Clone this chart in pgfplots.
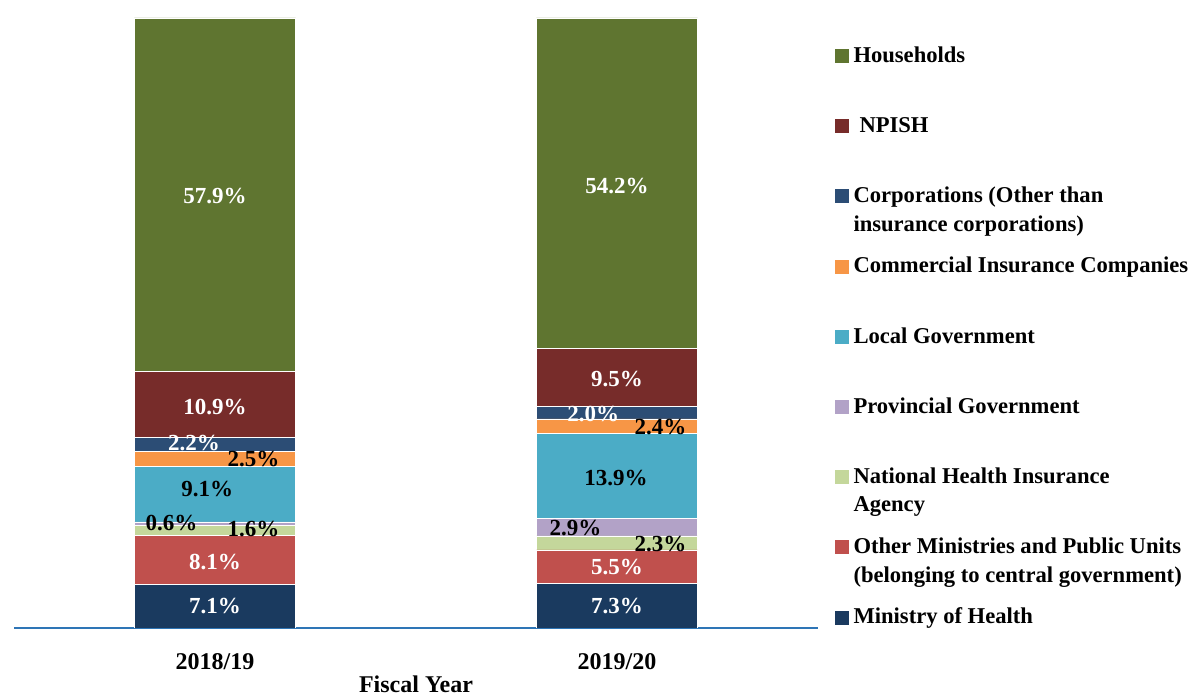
\documentclass[border=0pt]{standalone}
\usepackage{fontspec}
\setmainfont{Liberation Serif}
\usepackage{pgfplots}
\usepackage{pgfplotstable}
\pgfplotsset{compat=1.18}

\definecolor{cMoH}{HTML}{1A3A5F}
\definecolor{cOth}{HTML}{C0504D}
\definecolor{cNHI}{HTML}{C4D79B}
\definecolor{cPro}{HTML}{B2A2C7}
\definecolor{cLoc}{HTML}{4BACC6}
\definecolor{cCom}{HTML}{F79646}
\definecolor{cCor}{HTML}{2C4D75}
\definecolor{cNPI}{HTML}{772C2A}
\definecolor{cHou}{HTML}{5F7530}
\definecolor{cAxis}{HTML}{2E75B6}

\pgfplotstableread{
x MoH Oth NHI Pro Loc Com Cor NPI Hou
0 7.1 8.1 1.6 0.6 9.1 2.5 2.2 10.9 57.9
1 7.3 5.5 2.3 2.9 13.9 2.4 2.0 9.5 54.2
}\shares

\pgfplotstableread{
x y lab
0 70.82 57.9
0 36.23 10.9
-0.052 30.36 2.2
0 10.82 8.1
0 3.61 7.1
1 72.46 54.2
1 40.82 9.5
0.941 35.11 2.0
1 10.00 5.5
1 3.61 7.3
}\whitelab

\pgfplotstableread{
x y lab
0.0955 27.62 2.5
-0.019 22.82 9.1
-0.108 17.25 0.6
0.0955 16.26 1.6
1.108 32.93 2.4
0.9975 24.62 13.9
0.897 16.43 2.9
1.108 13.69 2.3
}\blacklab

\pgfplotsset{
  mybar/.style={fill=#1, draw=white, line width=0.5pt,
    legend image code/.code={\fill[#1] (0pt,0pt) rectangle (13pt,13pt);}},
  myframe/.style={at={(14pt,72pt)}, anchor=south west, scale only axis,
    width=804pt, height=610pt, xmin=-0.5, xmax=1.5, ymin=0, ymax=100},
}
\newcommand{\lentry}[1]{\rule[-50pt]{0pt}{70.2pt}\parbox[t]{360pt}{\raggedright #1}}

\begin{document}
\begin{tikzpicture}
\useasboundingbox (0,0) rectangle (1190pt,700pt);
\begin{axis}[myframe,
  ybar stacked, bar width=161.2pt,
  axis x line*=bottom, axis y line=none,
  axis line style={cAxis, line width=1.5pt},
  xtick={0,1}, xticklabels={\textbf{2018/19},\textbf{2019/20}},
  major tick length=0pt,
  xticklabel style={font=\fontsize{24}{28}\selectfont\bfseries, anchor=base, yshift=-42pt},
  xlabel={\textbf{Fiscal Year}},
  xlabel style={at={(axis description cs:0.5,0)}, anchor=base, yshift=-65pt,
    font=\fontsize{24}{28}\selectfont\bfseries},
  legend style={at={(axis description cs:1.02114,0.96049)}, anchor=north west,
    draw=none, fill=none, inner sep=0pt, outer sep=0pt, row sep=0pt, column sep=5pt,
    font=\fontsize{22.6}{28.5}\selectfont\bfseries,
    nodes={inner sep=0pt, outer sep=0pt, anchor=base west, text depth=, text height=}},
  reverse legend,
]
\addplot[mybar=cMoH] table[x=x,y=MoH]{\shares};
\addlegendentry{\lentry{Ministry of Health}}
\addplot[mybar=cOth] table[x=x,y=Oth]{\shares};
\addlegendentry{\lentry{Other Ministries and Public Units\\(belonging to central government)}}
\addplot[mybar=cNHI] table[x=x,y=NHI]{\shares};
\addlegendentry{\lentry{National Health Insurance\\Agency}}
\addplot[mybar=cPro] table[x=x,y=Pro]{\shares};
\addlegendentry{\lentry{Provincial Government}}
\addplot[mybar=cLoc] table[x=x,y=Loc]{\shares};
\addlegendentry{\lentry{Local Government}}
\addplot[mybar=cCom] table[x=x,y=Com]{\shares};
\addlegendentry{\lentry{Commercial Insurance Companies}}
\addplot[mybar=cCor] table[x=x,y=Cor]{\shares};
\addlegendentry{\lentry{Corporations (Other than\\insurance corporations)}}
\addplot[mybar=cNPI] table[x=x,y=NPI]{\shares};
\addlegendentry{\lentry{\hspace*{6pt}NPISH}}
\addplot[mybar=cHou] table[x=x,y=Hou]{\shares};
\addlegendentry{\lentry{Households}}
\end{axis}
\begin{axis}[myframe, hide axis, clip=false,
  every node near coord/.append style={font=\fontsize{23}{27}\selectfont\bfseries, anchor=center},
]
\addplot[only marks, mark=none, nodes near coords={\pgfplotspointmeta\%},
  point meta=explicit symbolic,
  every node near coord/.append style={text=white}]
  table[x=x,y=y,meta=lab]{\whitelab};
\addplot[only marks, mark=none, nodes near coords={\pgfplotspointmeta\%},
  point meta=explicit symbolic,
  every node near coord/.append style={text=black}]
  table[x=x,y=y,meta=lab]{\blacklab};
\end{axis}
\end{tikzpicture}
\end{document}
